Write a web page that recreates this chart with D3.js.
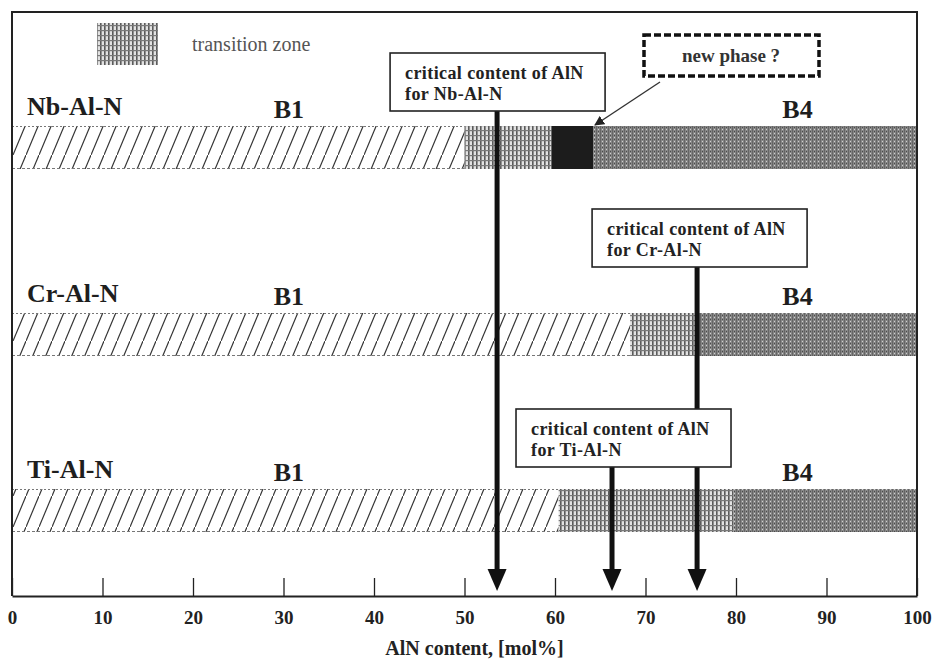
<!DOCTYPE html>
<html><head><meta charset="utf-8">
<script src="https://cdn.jsdelivr.net/npm/d3@7"></script>
<style>html,body{margin:0;padding:0;background:#fff;}svg{display:block;}</style>
</head><body>
<script>
// ---- data ----
const systems = ["Nb-Al-N", "Cr-Al-N", "Ti-Al-N"];
const b1End = [50.0, 68.3, 60.4];          // end of B1 phase (mol% AlN)
const transitionEnd = [59.6, 75.5, 79.7];  // end of transition zone
const newPhaseEnd = [64.2, null, null];    // unknown "new phase" region (Nb only)
const criticalAlN = [53.6, 75.7, 66.3];    // critical AlN content
const xTicks = [0, 10, 20, 30, 40, 50, 60, 70, 80, 90, 100];
const phaseNames = ["B1", "B4"];
const phaseLabelPos = [30.6, 86.8];
const legendLabel = "transition zone";
const xTitle = "AlN content, [mol%]";

const W = 936, H = 661;
const FONT = "'Liberation Serif','Times New Roman',serif";
const svg = d3.select("body").append("svg").attr("width", W).attr("height", H);

const x = d3.scaleLinear().domain([0, 100]).range([12, 917]);
const yTop = d3.scaleOrdinal().domain(systems).range([126, 313, 489]);
const barH = 43;
const axisY = 596;

// ---- patterns ----
const defs = svg.append("defs");
const ph = defs.append("pattern").attr("id", "hatch").attr("patternUnits", "userSpaceOnUse")
  .attr("width", 13).attr("height", 31);
ph.append("rect").attr("width", 13).attr("height", 31).attr("fill", "#fff");
ph.append("path").attr("d", "M-1,33.4 L14,-2.4").attr("stroke", "#333").attr("stroke-width", 1.2);

const pt = defs.append("pattern").attr("id", "trans").attr("patternUnits", "userSpaceOnUse")
  .attr("width", 4).attr("height", 5);
pt.append("rect").attr("width", 4).attr("height", 5).attr("fill", "#e2e2e2");
pt.append("rect").attr("x", 0).attr("y", 0).attr("width", 1.6).attr("height", 5).attr("fill", "#5a5a5a");
pt.append("rect").attr("x", 0).attr("y", 0).attr("width", 4).attr("height", 1.2).attr("fill", "#7a7a7a");

const pb = defs.append("pattern").attr("id", "b4").attr("patternUnits", "userSpaceOnUse")
  .attr("width", 4).attr("height", 4);
pb.append("rect").attr("width", 4).attr("height", 4).attr("fill", "#868686");
pb.append("rect").attr("x", 0).attr("y", 0).attr("width", 1).attr("height", 4).attr("fill", "#666");
pb.append("rect").attr("x", 2).attr("y", 1).attr("width", 1).attr("height", 1).attr("fill", "#cfcfcf");
pb.append("rect").attr("x", 2).attr("y", 3).attr("width", 1).attr("height", 1).attr("fill", "#4a4a4a");

defs.append("marker").attr("id", "lead").attr("viewBox", "0 0 10 10").attr("refX", 9).attr("refY", 5)
  .attr("markerWidth", 10).attr("markerHeight", 10).attr("markerUnits", "userSpaceOnUse").attr("orient", "auto")
  .append("path").attr("d", "M0,0 L10,5 L0,10 Z").attr("fill", "#222");

// ---- segments ----
const segments = [];
systems.forEach((s, i) => {
  segments.push({ sys: s, start: 0, end: b1End[i], type: "b1" });
  segments.push({ sys: s, start: b1End[i], end: transitionEnd[i], type: "trans" });
  let b4Start = transitionEnd[i];
  if (newPhaseEnd[i] != null) {
    segments.push({ sys: s, start: transitionEnd[i], end: newPhaseEnd[i], type: "new" });
    b4Start = newPhaseEnd[i];
  }
  segments.push({ sys: s, start: b4Start, end: 100, type: "b4" });
});
const fillOf = { b1: "url(#hatch)", trans: "url(#trans)", new: "#1c1c1c", b4: "url(#b4)" };

svg.append("g").selectAll("rect").data(segments).join("rect")
  .attr("x", d => x(d.start)).attr("width", d => x(d.end) - x(d.start))
  .attr("y", d => yTop(d.sys)).attr("height", barH)
  .attr("fill", d => fillOf[d.type]);

// dotted edges of B1 regions
const b1segs = segments.filter(d => d.type === "b1");
svg.append("g").selectAll("line").data(b1segs).join("line")
  .attr("x1", d => x(d.start)).attr("x2", d => x(d.end))
  .attr("y1", d => yTop(d.sys) + 0.5).attr("y2", d => yTop(d.sys) + 0.5)
  .attr("stroke", "#777").attr("stroke-width", 1).attr("stroke-dasharray", "2,2");
svg.append("g").selectAll("line").data(b1segs).join("line")
  .attr("x1", d => x(d.start)).attr("x2", d => x(d.end))
  .attr("y1", d => yTop(d.sys) + barH - 0.5).attr("y2", d => yTop(d.sys) + barH - 0.5)
  .attr("stroke", "#777").attr("stroke-width", 1).attr("stroke-dasharray", "3,2");

// ---- labels ----
svg.append("g").selectAll("text").data(systems).join("text")
  .attr("x", 27).attr("y", d => yTop(d) - 11)
  .attr("font-family", FONT).attr("font-weight", "bold").attr("font-size", 26).attr("fill", "#1e1e1e")
  .text(d => d);
const phaseLabelData = [];
systems.forEach(s => phaseNames.forEach((p, j) => phaseLabelData.push({ sys: s, name: p, pos: phaseLabelPos[j] })));
svg.append("g").selectAll("text").data(phaseLabelData).join("text")
  .attr("x", d => x(d.pos)).attr("y", d => yTop(d.sys) - 8).attr("text-anchor", "middle")
  .attr("font-family", FONT).attr("font-weight", "bold").attr("font-size", 26).attr("fill", "#1e1e1e")
  .text(d => d.name);

// ---- callout boxes + critical arrows ----
const boxLayout = [
  { offset: 107, top: 53 },
  { offset: 105, top: 209 },
  { offset: 96, top: 409 }
];
const boxW = 215, boxHt = 58;
const cg = svg.append("g");
systems.forEach((s, i) => {
  const ax = x(criticalAlN[i]);
  const bx = ax - boxLayout[i].offset, by = boxLayout[i].top;
  cg.append("line").attr("x1", ax).attr("x2", ax).attr("y1", by + boxHt).attr("y2", 572)
    .attr("stroke", "#111").attr("stroke-width", 5);
  cg.append("path").attr("d", `M${ax - 9.5},569 L${ax + 9.5},569 L${ax},591 Z`).attr("fill", "#111");
  cg.append("rect").attr("x", bx).attr("y", by).attr("width", boxW).attr("height", boxHt)
    .attr("fill", "#fff").attr("stroke", "#222").attr("stroke-width", 1.6);
  const t = cg.append("text").attr("font-family", FONT).attr("font-weight", "bold")
    .attr("font-size", 18).attr("letter-spacing", 0.4).attr("fill", "#222");
  t.append("tspan").attr("x", bx + 15).attr("y", by + 26).text("critical content of AlN");
  t.append("tspan").attr("x", bx + 15).attr("y", by + 47).text("for " + s);
});

// new phase callout
const np = svg.append("g");
np.append("rect").attr("x", 644).attr("y", 35).attr("width", 175).attr("height", 41)
  .attr("fill", "#fff").attr("stroke", "#111").attr("stroke-width", 3.5).attr("stroke-dasharray", "7,3");
np.append("text").attr("x", 731).attr("y", 62).attr("text-anchor", "middle")
  .attr("font-family", FONT).attr("font-weight", "bold").attr("font-size", 19).attr("fill", "#333")
  .text("new phase ?");
np.append("line").attr("x1", 660).attr("y1", 82).attr("x2", x(newPhaseEnd[0]) + 2).attr("y2", yTop(systems[0]) - 1)
  .attr("stroke", "#333").attr("stroke-width", 1.4).attr("marker-end", "url(#lead)");

// ---- legend ----
svg.append("rect").attr("x", 97).attr("y", 23).attr("width", 61).attr("height", 42).attr("fill", "url(#trans)");
svg.append("text").attr("x", 192).attr("y", 51).attr("font-family", FONT).attr("font-size", 20)
  .attr("fill", "#555").text(legendLabel);

// ---- frame + axis ----
svg.append("path").attr("d", `M${x(0)},${axisY} V12 H${x(100)} V${axisY}`)
  .attr("fill", "none").attr("stroke", "#222").attr("stroke-width", 2);
const axis = d3.axisBottom(x).tickValues(xTicks).tickSizeInner(-18).tickSizeOuter(0).tickPadding(15)
  .tickFormat(d3.format("d"));
const ag = svg.append("g").attr("transform", `translate(0,${axisY})`).call(axis);
ag.select(".domain").attr("stroke", "#222").attr("stroke-width", 2);
ag.selectAll(".tick line").attr("stroke", "#222").attr("stroke-width", 1.3);
ag.selectAll(".tick text").attr("font-family", FONT).attr("font-weight", "bold").attr("font-size", 19).attr("fill", "#222");
svg.append("text").attr("x", (x(0) + x(100)) / 2 + 10).attr("y", 655).attr("text-anchor", "middle")
  .attr("font-family", FONT).attr("font-weight", "bold").attr("font-size", 20).attr("fill", "#222")
  .text(xTitle);
</script>
</body></html>
